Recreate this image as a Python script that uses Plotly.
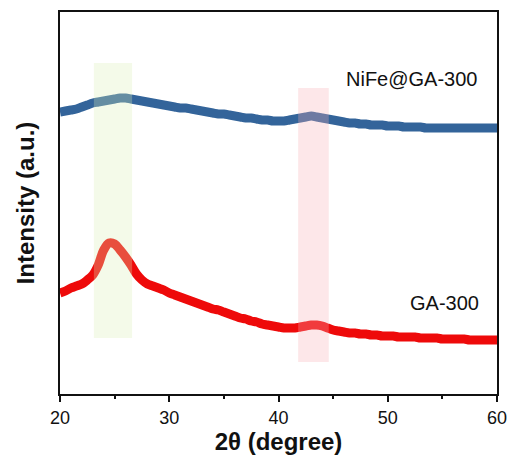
import plotly.graph_objects as go

# 2theta positions (degree), 0.5 step
two_theta = [20 + 0.5 * i for i in range(81)]

# NiFe@GA-300 intensity (a.u.)
nife_ga = [282, 283, 284, 285, 287, 289, 291, 292, 293, 294,
           295, 296, 296, 295, 294, 293, 292, 291, 290, 289,
           288, 287, 286, 286, 285, 284, 283, 282, 281, 280,
           280, 279, 278, 277, 276, 276, 275, 274, 274, 273,
           273, 273, 274, 275, 276, 277, 278, 277, 276, 275,
           274, 273, 272, 271, 271, 270, 270, 269, 269, 269,
           268, 268, 268, 267, 267, 267, 267, 266, 266, 266,
           266, 266, 266, 266, 266, 266, 266, 266, 266, 266,
           266]

# GA-300 intensity (a.u.)
ga = [101, 103, 106, 108, 110, 114, 119, 129, 144, 151,
      150, 144, 137, 129, 120, 114, 110, 108, 106, 104,
      101, 99, 97, 95, 93, 91, 89, 87, 85, 84,
      82, 80, 78, 76, 75, 73, 72, 70, 69, 68,
      67, 66, 66, 66, 67, 68, 69, 69, 68, 66,
      64, 63, 62, 61, 61, 60, 60, 59, 59, 58,
      58, 58, 57, 57, 57, 57, 56, 56, 56, 56,
      55, 55, 55, 55, 55, 54, 54, 54, 54, 54,
      54]

fig = go.Figure()
fig.add_trace(go.Scatter(x=two_theta, y=nife_ga, mode="lines",
                         line=dict(color="#33649a", width=9, shape="spline", simplify=False),
                         name="NiFe@GA-300"))
fig.add_trace(go.Scatter(x=two_theta, y=ga, mode="lines",
                         line=dict(color="#ee0a0a", width=9, shape="spline", simplify=False),
                         name="GA-300"))

# highlighted regions
fig.add_shape(type="rect", x0=23.1, x1=26.6, y0=56, y1=331, layer="above",
              fillcolor="rgba(217,238,183,0.3)", line_width=0)
fig.add_shape(type="rect", x0=41.8, x1=44.6, y0=32, y1=306, layer="above",
              fillcolor="rgba(248,176,183,0.3)", line_width=0)

fig.add_annotation(x=52.2, y=315, text="NiFe@GA-300", showarrow=False,
                   font=dict(size=20, color="#111"))
fig.add_annotation(x=55.2, y=91, text="GA-300", showarrow=False,
                   font=dict(size=20, color="#111"))

fig.update_xaxes(range=[20, 60], dtick=10, ticks="outside", ticklen=6, tickwidth=2,
                 tickcolor="#111", showline=True, linewidth=2, linecolor="#111",
                 mirror=True, showgrid=False, zeroline=False, automargin=False,
                 tickfont=dict(size=18, color="#111"),
                 minor=dict(ticks="outside", ticklen=3, tickwidth=2, dtick=5, tickcolor="#111"),
                 title=dict(text="<b>2θ (degree)</b>", font=dict(size=24, color="#111"), standoff=0))
fig.update_yaxes(range=[0, 382], showticklabels=False, ticks="", showline=True,
                 linewidth=2, linecolor="#111", mirror=True, showgrid=False, zeroline=False,
                 automargin=False,
                 title=dict(text="<b>Intensity (a.u.)</b>", font=dict(size=24, color="#111"), standoff=17))

fig.update_layout(width=512, height=459, showlegend=False,
                  plot_bgcolor="white", paper_bgcolor="white",
                  font_family="Liberation Sans",
                  margin=dict(l=60, r=15, t=12, b=65))

# drop the default page margin so the 512x459 figure fills the window
fig.write_html("out.html", config={"displayModeBar": False},
               post_script="document.body.style.margin='0';")
